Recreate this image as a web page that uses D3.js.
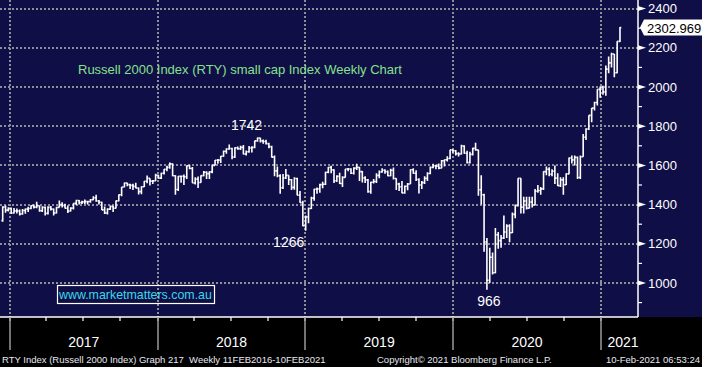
<!DOCTYPE html>
<html>
<head>
<meta charset="utf-8">
<script src="https://cdn.jsdelivr.net/npm/d3@7"></script>
<style>
body { margin: 0; background: #000; }
svg { display: block; font-family: "Liberation Sans", Arial, sans-serif; }
</style>
</head>
<body>
<svg width="702" height="367"></svg>
<script>
// weekly OHLC, week ending Fridays, first bar = 9 Dec 2016
let firstWeek = "2016-12-09";

let opens = [
  1318,1388,1372,1381,
  1357,1368,1367,1352,1370,1377,1380,1394,1387,1394,1369,1386,1355,1386,1377,1357,1386,1400,1396,1381,1367,1382,1406,1421,1410,1414,1415,1416,1425,1435,1418,1412,1373,1357,1377,1391,1381,1419,1450,1490,1510,1502,1498,1493,1485,1466,1491,1519,1534,1520,1521,1550,
  1535,1560,1580,1590,1608,1547,1477,1544,1545,1542,1598,1584,1510,1530,1513,1548,1565,1558,1567,1600,1626,1627,1647,1672,1684,1686,1643,1690,1685,1692,1658,1670,1689,1692,1725,1740,1725,1722,1711,1696,1642,1572,1547,1486,1536,1549,1527,1488,1533,1448,1410,1292,
  1337,1380,1433,1478,1480,1502,1504,1565,1590,1577,1522,1544,1508,1539,1582,1582,1560,1586,1590,1568,1536,1526,1466,1514,1518,1549,1566,1575,1568,1547,1575,1533,1505,1491,1460,1494,1505,1578,1560,1528,1500,1512,1534,1559,1590,1598,1596,1586,1624,1629,1635,1679,
  1675,1660,1658,1699,1662,1614,1656,1687,1679,1476,1450,1210,1014,1131,1052,1246,1216,1229,1260,1291,1256,1350,1394,1534,1387,1418,1382,1413,1398,1468,1472,1480,1568,1580,1555,1570,1535,1497,1526,1501,1557,1638,1628,1641,1538,1644,1744,1786,1855,1892,1921,1988,
  1999,1975,2091,2123,2168,2073,2233
];
let highs = [
  1392,1395,1386,1385,
  1383,1380,1375,1377,1380,1389,1397,1401,1414,1396,1392,1390,1392,1393,1380,1388,1421,1412,1404,1395,1386,1407,1425,1423,1420,1426,1420,1428,1442,1450,1423,1415,1390,1381,1396,1393,1421,1452,1490,1513,1511,1506,1506,1512,1487,1493,1521,1548,1535,1526,1557,1552,
  1562,1582,1598,1615,1610,1550,1546,1548,1553,1600,1603,1592,1539,1543,1550,1572,1570,1570,1604,1627,1633,1648,1676,1688,1706,1690,1692,1696,1700,1704,1676,1699,1698,1726,1742,1741,1732,1731,1716,1700,1650,1595,1555,1556,1582,1550,1530,1540,1537,1470,1420,1345,
  1385,1440,1481,1487,1507,1516,1567,1592,1598,1580,1550,1562,1545,1582,1587,1586,1590,1608,1592,1571,1545,1531,1517,1530,1560,1574,1585,1580,1574,1583,1589,1535,1512,1520,1497,1510,1580,1586,1575,1535,1520,1545,1565,1595,1608,1603,1610,1628,1630,1647,1680,1681,
  1678,1667,1705,1703,1675,1670,1690,1716,1680,1550,1455,1230,1180,1155,1280,1260,1245,1345,1300,1300,1360,1400,1535,1535,1440,1440,1440,1440,1480,1500,1490,1570,1595,1590,1580,1600,1560,1540,1540,1560,1640,1650,1650,1645,1650,1760,1790,1856,1893,1925,1988,2003,
  2007,2110,2155,2175,2168,2233,2306
];
let lows = [
  1312,1358,1365,1352,
  1355,1355,1345,1348,1353,1362,1376,1380,1382,1363,1362,1345,1350,1370,1345,1355,1385,1385,1380,1357,1365,1375,1398,1400,1403,1403,1400,1410,1422,1415,1400,1372,1352,1350,1373,1362,1380,1417,1443,1488,1494,1480,1474,1483,1451,1453,1490,1509,1497,1505,1520,1532,
  1530,1553,1570,1583,1545,1450,1470,1512,1500,1530,1580,1510,1503,1485,1512,1545,1531,1530,1560,1600,1608,1612,1644,1660,1680,1632,1638,1680,1678,1656,1650,1665,1666,1688,1721,1717,1710,1706,1688,1640,1545,1540,1455,1480,1530,1500,1475,1476,1448,1410,1290,1266,
  1305,1378,1420,1455,1460,1483,1500,1560,1560,1510,1515,1505,1490,1538,1570,1556,1553,1576,1520,1513,1510,1461,1455,1508,1510,1535,1562,1557,1545,1545,1528,1475,1470,1458,1455,1473,1505,1557,1520,1456,1480,1505,1520,1555,1585,1580,1580,1585,1595,1620,1632,1665,
  1650,1645,1655,1660,1610,1610,1650,1675,1445,1400,1160,966,1000,1043,1050,1175,1180,1225,1230,1208,1255,1330,1390,1355,1355,1375,1380,1385,1395,1460,1450,1475,1550,1545,1545,1505,1495,1490,1450,1500,1555,1610,1600,1530,1530,1644,1730,1780,1820,1880,1905,1945,
  1960,1955,2070,2100,2050,2070,2230
];
let closes = [
  1388,1372,1381,1357,
  1368,1367,1352,1370,1377,1380,1394,1387,1394,1369,1386,1355,1386,1377,1357,1386,1400,1396,1381,1367,1382,1406,1421,1410,1414,1415,1416,1425,1435,1418,1412,1373,1357,1377,1391,1381,1419,1450,1490,1510,1502,1498,1493,1485,1466,1491,1519,1534,1520,1521,1550,1535,
  1560,1580,1590,1608,1547,1477,1544,1545,1542,1598,1584,1510,1530,1513,1548,1565,1558,1567,1600,1626,1627,1647,1672,1684,1686,1643,1690,1685,1692,1658,1670,1689,1692,1725,1740,1725,1722,1711,1696,1642,1572,1547,1486,1536,1549,1527,1488,1533,1448,1410,1292,1337,
  1380,1433,1478,1480,1502,1504,1565,1590,1577,1522,1544,1508,1539,1582,1582,1560,1586,1590,1568,1536,1526,1466,1514,1518,1549,1566,1575,1568,1547,1575,1533,1505,1491,1460,1494,1505,1578,1560,1528,1500,1512,1534,1559,1590,1598,1596,1586,1624,1629,1635,1679,1675,
  1660,1658,1699,1662,1614,1656,1687,1679,1476,1450,1210,1014,1131,1052,1246,1216,1229,1260,1291,1256,1350,1394,1534,1387,1418,1382,1413,1398,1468,1472,1480,1568,1580,1555,1570,1535,1497,1526,1501,1557,1638,1628,1641,1538,1644,1744,1786,1855,1892,1921,1988,1999,
  1975,2091,2123,2168,2073,2233,2303
];

let years = [2017, 2018, 2019, 2020, 2021];
let priceTicks = [1000, 1200, 1400, 1600, 1800, 2000, 2200, 2400];
let minorTicks = [900, 1100, 1300, 1500, 1700, 1900, 2100, 2300];
let lastPrice = "2302.969";

let markLabels = ["1742", "1266", "966"];
let markDates = ["2018-08-31", "2018-12-28", "2020-03-20"];
let markValues = [1742, 1266, 966];

let title = "Russell 2000 Index (RTY) small cap Index Weekly Chart";
let website = "www.marketmatters.com.au";
let footer = ["RTY Index (Russell 2000 Index) Graph 217\u00A0\u00A0Weekly 11FEB2016-10FEB2021",
              "Copyright\u00A9 2021 Bloomberg Finance L.P.",
              "10-Feb-2021 06:53:24"];

// layout
const W = 702, H = 367;
const plotRight = 638, plotBottom = 317;
const barShift = 2;

let svg = d3.select('svg');

svg.append('rect').attr('width', W).attr('height', H).attr('fill', '#000');
svg.append('rect').attr('width', W).attr('height', plotBottom).attr('fill', '#100e46');

let parse = d3.utcParse('%Y-%m-%d');
let start = parse(firstWeek);
let bars = closes.map((c, i) => ({
  date: d3.utcDay.offset(start, 7 * i),
  open: opens[i], high: highs[i], low: lows[i], close: c
}));

let xScale = d3.scaleUtc()
  .domain([new Date(Date.UTC(2017, 0, 1)), new Date(Date.UTC(2021, 0, 1))])
  .range([10, 601]);
let yScale = d3.scaleLinear()
  .domain([1000, 2400])
  .range([283, 8.6]);

// grid
let grid = svg.append('g')
  .attr('stroke', '#8e8e99')
  .attr('stroke-width', 2)
  .attr('stroke-dasharray', '2,2');
grid.selectAll('.hgrid')
  .data(priceTicks)
  .enter().append('line')
  .attr('x1', 0).attr('x2', plotRight)
  .attr('y1', d => Math.round(yScale(d)))
  .attr('y2', d => Math.round(yScale(d)));
grid.selectAll('.vgrid')
  .data(years)
  .enter().append('line')
  .attr('x1', d => Math.round(xScale(new Date(Date.UTC(d, 0, 1)))))
  .attr('x2', d => Math.round(xScale(new Date(Date.UTC(d, 0, 1)))))
  .attr('y1', 0).attr('y2', plotBottom);

// OHLC bars
let barG = svg.append('g')
  .attr('stroke', '#fff')
  .attr('stroke-width', 1.6)
  .attr('fill', 'none');
barG.selectAll('.bar')
  .data(bars)
  .enter().append('path')
  .attr('class', 'bar')
  .attr('d', d => {
    let x = xScale(d.date) + barShift;
    return `M${x},${yScale(d.low)}V${yScale(d.high)}` +
      `M${x - 1.3},${yScale(d.open)}H${x}` +
      `M${x},${yScale(d.close)}H${x + 1.3}`;
  });

// right axis
svg.append('line')
  .attr('x1', plotRight).attr('x2', plotRight)
  .attr('y1', 0).attr('y2', plotBottom)
  .attr('stroke', '#fff').attr('stroke-width', 1.5);
svg.selectAll('.minor')
  .data(minorTicks)
  .enter().append('line')
  .attr('x1', plotRight).attr('x2', plotRight + 4)
  .attr('y1', d => yScale(d)).attr('y2', d => yScale(d))
  .attr('stroke', '#fff').attr('stroke-width', 1.2);
svg.selectAll('.arrow')
  .data(priceTicks)
  .enter().append('path')
  .attr('d', d => {
    let y = yScale(d);
    return `M${plotRight},${y - 2.5}L${plotRight + 8},${y}L${plotRight},${y + 2.5}Z`;
  })
  .attr('fill', '#fff');
svg.selectAll('.ylab')
  .data(priceTicks)
  .enter().append('text')
  .attr('x', 648)
  .attr('y', d => yScale(d) + 4.5)
  .attr('fill', '#fff')
  .style('font-size', '13px')
  .text(d => d);

// last price flag
let py = yScale(2302.969);
svg.append('path')
  .attr('d', `M${plotRight + 2},${py}L${plotRight + 6},${py - 8}H${W}V${py + 8}H${plotRight + 6}Z`)
  .attr('fill', '#fff');
svg.append('text')
  .attr('x', 647).attr('y', py + 5)
  .attr('fill', '#000')
  .style('font-size', '13px')
  .text(lastPrice);

// bottom axis
svg.append('line')
  .attr('x1', 0).attr('x2', plotRight)
  .attr('y1', plotBottom).attr('y2', plotBottom)
  .attr('stroke', '#fff').attr('stroke-width', 1.5);
let quarters = d3.utcMonth.every(3).range(new Date(Date.UTC(2016, 11, 1)), new Date(Date.UTC(2021, 2, 1)));
svg.selectAll('.qtick')
  .data(quarters.filter(d => xScale(d) > 0 && xScale(d) < plotRight))
  .enter().append('line')
  .attr('x1', d => Math.round(xScale(d))).attr('x2', d => Math.round(xScale(d)))
  .attr('y1', plotBottom).attr('y2', plotBottom + 4)
  .attr('stroke', '#fff').attr('stroke-width', 1.2);
svg.selectAll('.ytick')
  .data(years)
  .enter().append('line')
  .attr('x1', d => Math.round(xScale(new Date(Date.UTC(d, 0, 1)))))
  .attr('x2', d => Math.round(xScale(new Date(Date.UTC(d, 0, 1)))))
  .attr('y1', plotBottom).attr('y2', 350)
  .attr('stroke', '#9a9a9a').attr('stroke-width', 1.5);
svg.selectAll('.xlab')
  .data(years)
  .enter().append('text')
  .attr('x', d => {
    let a = xScale(new Date(Date.UTC(d, 0, 1)));
    let b = Math.min(xScale(new Date(Date.UTC(d + 1, 0, 1))), 645);
    return (a + b) / 2;
  })
  .attr('y', 347)
  .attr('text-anchor', 'middle')
  .attr('fill', '#fff')
  .style('font-size', '14px')
  .text(d => d);

// title, website box
svg.append('text')
  .attr('x', 78).attr('y', 74)
  .attr('fill', '#86e08e')
  .style('font-size', '13px')
  .text(title);
svg.append('rect')
  .attr('x', 57.5).attr('y', 285.5).attr('width', 157).attr('height', 18)
  .attr('fill', 'none').attr('stroke', '#fff').attr('stroke-width', 1.2);
svg.append('text')
  .attr('x', 59).attr('y', 299)
  .attr('fill', '#3ad8e8')
  .style('font-size', '12.4px')
  .text(website);

// annotations
let marks = markLabels.map((t, i) => ({text: t, date: parse(markDates[i]), value: markValues[i]}));
svg.selectAll('.mark')
  .data(marks)
  .enter().append('text')
  .attr('x', (d, i) => xScale(d.date) + barShift + [-11, -17, 2][i])
  .attr('y', (d, i) => i === 0 ? yScale(d.value) - 8 : yScale(d.value) + 16)
  .attr('text-anchor', 'middle')
  .attr('fill', '#fff')
  .style('font-size', '14px')
  .text(d => d.text);

// footer
svg.append('text').attr('x', 2).attr('y', 363).attr('fill', '#e8e8f2')
  .style('font-size', '9.5px').text(footer[0]);
svg.append('text').attr('x', 377).attr('y', 363).attr('fill', '#e8e8f2')
  .style('font-size', '9.5px').text(footer[1]);
svg.append('text').attr('x', 700).attr('y', 363).attr('fill', '#e8e8f2')
  .attr('text-anchor', 'end')
  .style('font-size', '9.5px').text(footer[2]);
</script>
</body>
</html>
